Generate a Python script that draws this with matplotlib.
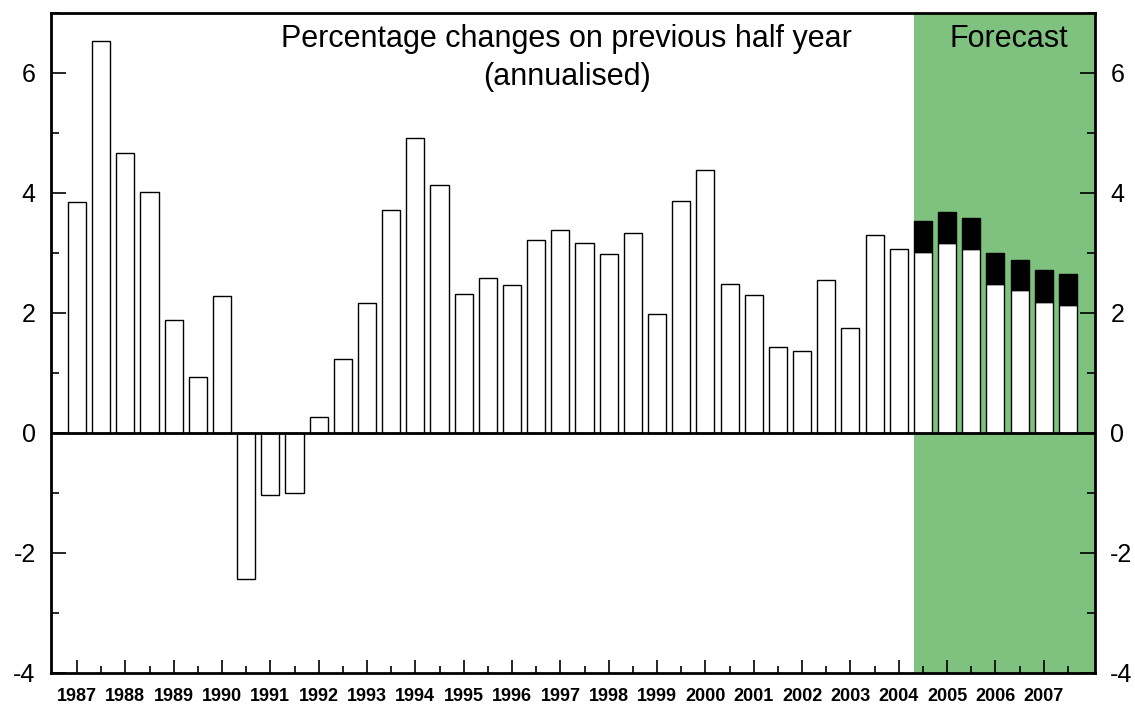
import numpy as np
import matplotlib
matplotlib.use("Agg")
import matplotlib.pyplot as plt
from matplotlib.ticker import FixedLocator, MultipleLocator

plt.rcParams["font.family"] = ["Liberation Sans", "DejaVu Sans"]
plt.rcParams["axes.unicode_minus"] = False

# полугодия 1987H1 .. 2007H2
years = list(range(1987, 2008))
periods = [f"{y}H{h}" for y in years for h in (1, 2)]

# факт: 1987H1 .. 2004H1
hist = [3.85, 6.54, 4.66, 4.02, 1.88, 0.94, 2.29, -2.43, -1.03, -1.00,
        0.26, 1.24, 2.17, 3.72, 4.92, 4.13, 2.32, 2.59, 2.46, 3.22,
        3.38, 3.17, 2.98, 3.33, 1.99, 3.87, 4.38, 2.48, 2.30, 1.44,
        1.36, 2.55, 1.75, 3.30, 3.07]
# прогноз: 2004H2 .. 2007H2 (белая часть и полная высота с чёрным сегментом)
fc_base = [3.02, 3.16, 3.07, 2.48, 2.38, 2.19, 2.14]
fc_total = [3.53, 3.68, 3.58, 3.00, 2.89, 2.71, 2.65]

GREEN = "#7fc17f"
W = 0.75

fig = plt.figure(figsize=(11.35, 7.04), dpi=100)
ax = fig.add_axes([51 / 1135, 31 / 704, 1044 / 1135, 660 / 704])

x_hist = np.arange(len(hist))
x_fc = np.arange(len(hist), len(periods))

ax.axvspan(34.65, 43, color=GREEN, lw=0, zorder=0)
ax.bar(x_hist, hist, width=W, color="white", edgecolor="black", lw=1.0, zorder=2)
ax.bar(x_fc, fc_base, width=W, color="white", edgecolor="black", lw=1.0, zorder=2)
ax.bar(x_fc, np.array(fc_total) - np.array(fc_base), bottom=fc_base, width=W,
       color="black", edgecolor="black", lw=1.0, zorder=2)
ax.axhline(0, color="black", lw=2, zorder=3)

ax.set_xlim(-1.076, 42.12)
ax.set_ylim(-4, 7)

# оси
for s in ax.spines.values():
    s.set_linewidth(2)
    s.set_zorder(4)

ax.xaxis.set_major_locator(FixedLocator(np.arange(0, len(periods), 2)))
ax.xaxis.set_minor_locator(FixedLocator(np.arange(1, len(periods), 2)))
ax.set_xticklabels([str(y) for y in years], fontsize=13, fontweight="bold")
ax.tick_params(axis="x", which="major", direction="in", length=9.5, width=1.2, pad=10.5)
ax.tick_params(axis="x", which="minor", direction="in", length=5, width=1.2)

ax.yaxis.set_major_locator(FixedLocator([-4, -2, 0, 2, 4, 6]))
ax.yaxis.set_minor_locator(MultipleLocator(1))
ax.tick_params(axis="y", which="both", left=True, right=True, labelleft=True,
               labelright=True, direction="in", width=1.2)
ax.tick_params(axis="y", which="major", length=11, pad=11, labelsize=18)
ax.tick_params(axis="y", which="minor", length=6)

ax.text(20.27, 6.44, "Percentage changes on previous half year", fontsize=22,
        ha="center", va="baseline", zorder=5)
ax.text(20.27, 5.80, "(annualised)", fontsize=22, ha="center", va="baseline", zorder=5)
ax.text(38.56, 6.44, "Forecast", fontsize=22, ha="center", va="baseline", zorder=5)

fig.savefig("out.png", dpi=100)
